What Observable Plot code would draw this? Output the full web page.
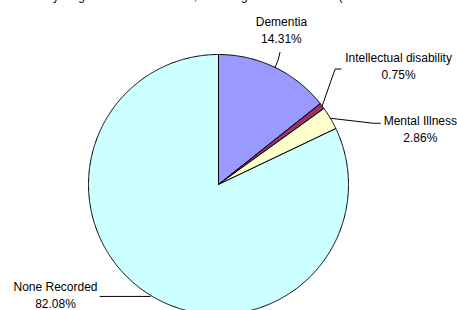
<!DOCTYPE html>
<html>
<head>
<meta charset="utf-8">
<script src="https://cdn.jsdelivr.net/npm/d3@7"></script>
<script src="https://cdn.jsdelivr.net/npm/@observablehq/plot@0.6"></script>
<style>
  html, body { margin: 0; padding: 0; background: #fff; }
  #wrap { position: relative; width: 457px; height: 310px; overflow: hidden; font-family: "Liberation Sans", Arial, sans-serif; }
  #title { position: absolute; top: -10px; left: 228px; transform: translateX(-50%); white-space: nowrap; font-size: 12px; line-height: 12px; color: #000; }
  svg { display: block; }
</style>
</head>
<body>
<div id="wrap">
  <div id="title">Proportion of residents by diagnosis at assessment, including None Recorded (service utilisation dataset), 2008–09</div>
  <div id="chart"></div>
</div>
<script>
// ---- data ----
const categories = ["Dementia", "Intellectual disability", "Mental Illness", "None Recorded"];
const shares = [14.31, 0.75, 2.86, 82.08];
const shareLabels = ["14.31%", "0.75%", "2.86%", "82.08%"];
const colors = ["#9999FF", "#993366", "#FFFFCC", "#CCFFFF"];

// ---- layout (pixels) ----
const W = 457, H = 310, CX = 218, CY = 184, R = 130;
// label/leader offsets from slice's outer mid-point, in pixels (x right, y down)
const leaderOffsets = [
  [[0, 0], [3, -7], [5, -15]],
  [[0, 0], [13, -37], [19, -37]],
  [[0, 0], [43, 5], [50, 5]],
  [[1, 2], [-49, 2]]
];
const textOffsets = [[6.4, -38.2], [76.4, -40.8], [90, 10], [-93.6, -0.6]];

// ---- geometry in data units (radius = 1, angle clockwise from 12 o'clock) ----
const total = d3.sum(shares);
let acc = 0;
const slices = categories.map((name, i) => {
  const a0 = acc / total * 2 * Math.PI;
  acc += shares[i];
  const a1 = acc / total * 2 * Math.PI;
  return {name, a0, a1, mid: (a0 + a1) / 2, label: name + "\n" + shareLabels[i], i};
});
const slicePts = [];
for (const s of slices) {
  slicePts.push({name: s.name, x: 0, y: 0});
  const n = Math.max(4, Math.ceil((s.a1 - s.a0) / (Math.PI / 360)));
  for (let k = 0; k <= n; k++) {
    const a = s.a0 + (s.a1 - s.a0) * k / n;
    slicePts.push({name: s.name, x: Math.sin(a), y: Math.cos(a)});
  }
  slicePts.push({name: s.name, x: 0, y: 0});
}
const anchors = slices.map(s => ({...s, x: Math.sin(s.mid), y: Math.cos(s.mid)}));
const leaderPts = [];
anchors.forEach((a, i) => {
  for (const [dx, dy] of leaderOffsets[i]) leaderPts.push({name: a.name, x: a.x + dx / R, y: a.y - dy / R});
});

const textMarks = anchors.map((a, i) => Plot.text([a], {
  x: "x", y: "y", text: "label",
  dx: textOffsets[i][0], dy: textOffsets[i][1],
  textAnchor: "middle", lineAnchor: "middle", lineHeight: 1.4,
  fontSize: 12, fill: "#000"
}));

const chart = Plot.plot({
  width: W, height: H,
  marginTop: 0, marginRight: 0, marginBottom: 0, marginLeft: 0,
  style: {background: "transparent", fontFamily: "'Liberation Sans', Arial, sans-serif", fontSize: "12px"},
  x: {domain: [-CX / R, (W - CX) / R], axis: null},
  y: {domain: [(CY - H) / R, CY / R], axis: null},
  color: {domain: categories, range: colors},
  marks: [
    Plot.line(slicePts, {x: "x", y: "y", z: "name", fill: "name", stroke: "#000", strokeWidth: 1, curve: "linear", strokeLinejoin: "round"}),
    Plot.line(leaderPts, {x: "x", y: "y", z: "name", stroke: "#000", strokeWidth: 1}),
    ...textMarks
  ]
});
document.getElementById("chart").appendChild(chart);
</script>
</body>
</html>
